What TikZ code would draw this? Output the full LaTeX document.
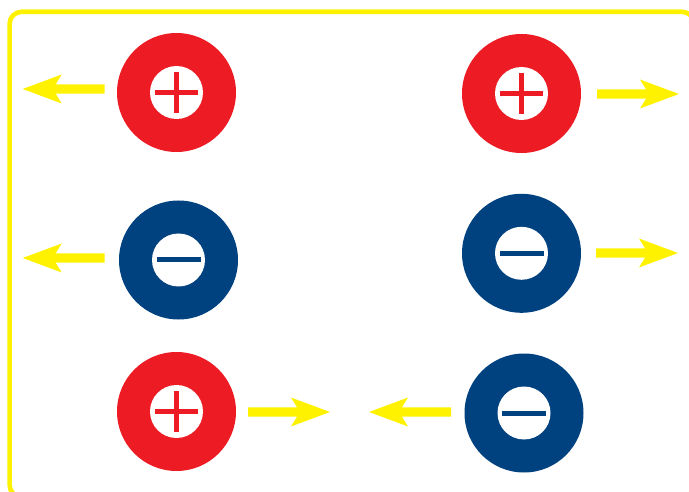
\documentclass[tikz,border=0pt]{standalone}
\definecolor{chred}{HTML}{ED1C24}
\definecolor{chblue}{HTML}{00417F}
\definecolor{fyellow}{HTML}{FFF200}
\begin{document}
\begin{tikzpicture}[x=1pt,y=-1pt,
  ionbody/.style={circle,inner sep=0pt,minimum size=119pt},
  poscharge/.style={ionbody,fill=chred},
  negcharge/.style={ionbody,fill=chblue},
  ioncore/.style={circle,inner sep=0pt,minimum size=53pt,fill=white},
  signbar/.style={line width=5pt},
  farrow/.pic={\fill[fyellow] (0,0) -- (39,-14.5) -- (33,-4.7) -- (82,-4.7) -- (82,4.7) -- (33,4.7) -- (39,14.5) -- cycle;}
]
\useasboundingbox (0,0) rectangle (689,492);
\draw[fyellow,line width=4.6pt,rounded corners=12pt] (9.6,11.8) rectangle (694,497);

% positive charges
\node[poscharge] (p1) at (176.5,92.5) {};
\node[ioncore] (p1c) at (p1) {};
\draw[chred,signbar] (p1c) ++(-21.5,0) -- ++(43,0);
\draw[chred,signbar] (p1c) ++(0,-20.5) -- ++(0,41);

\node[poscharge] (p2) at (521.5,93.5) {};
\node[ioncore] (p2c) at (p2) {};
\draw[chred,signbar] (p2c) ++(-21.5,0) -- ++(43,0);
\draw[chred,signbar] (p2c) ++(0,-20.5) -- ++(0,41);

\node[poscharge] (p3) at (176.5,411.5) {};
\node[ioncore] (p3c) at (p3) {};
\draw[chred,signbar] (p3c) ++(-21.5,0) -- ++(43,0);
\draw[chred,signbar] (p3c) ++(0,-20.5) -- ++(0,41);

% negative charges
\node[negcharge] (n1) at (178.5,260) {};
\node[ioncore] (n1c) at (n1) {};
\draw[chblue,signbar] (n1c) ++(-22,0) -- ++(44,0);

\node[negcharge] (n2) at (521.5,253.3) {};
\node[ioncore] (n2c) at (n2) {};
\draw[chblue,signbar] (n2c) ++(-22,0) -- ++(44,0);

\node[negcharge] (n3) at (524,413) {};
\node[ioncore] (n3c) at (n3) {};
\draw[chblue,signbar] (n3c) ++(-22,0) -- ++(44,0);

% force arrows
\pic at (22.7,89) {farrow};
\pic at (22.7,258) {farrow};
\pic[xscale=-1] at (679,94) {farrow};
\pic[xscale=-1] at (678,253) {farrow};
\pic[xscale=-1] at (330,412) {farrow};
\pic at (369,412) {farrow};
\end{tikzpicture}
\end{document}
